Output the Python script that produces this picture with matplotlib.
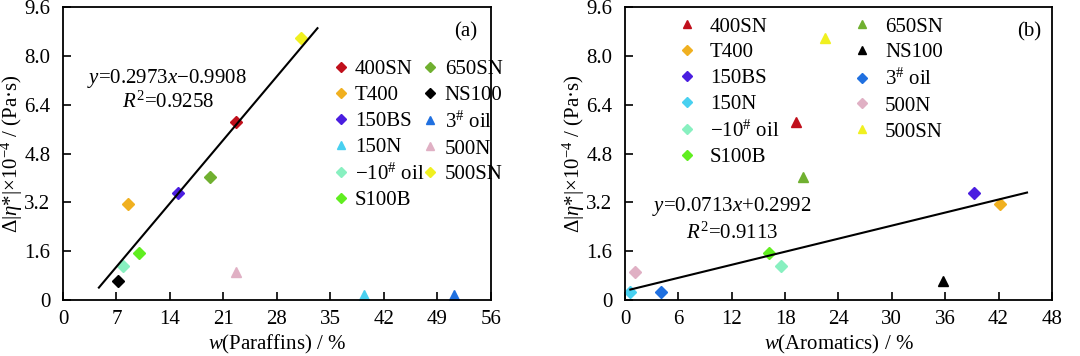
import matplotlib
matplotlib.use("Agg")
import matplotlib.pyplot as plt
import numpy as np

plt.rcParams['font.family'] = ['Liberation Serif', 'DejaVu Serif']
plt.rcParams['mathtext.fontset'] = 'custom'
plt.rcParams['mathtext.rm'] = 'Liberation Serif'
plt.rcParams['mathtext.it'] = 'Liberation Serif:italic'
plt.rcParams['font.size'] = 15

# oils (legend order)
oils = ['400SN', 'T400', '150BS', '150N', '\u221210$^{\\#}$ oil', 'S100B',
        '650SN', 'NS100', '3$^{\\#}$ oil', '500N', '500SN']
colors = ['#c0101c', '#f0b020', '#4a1ee0', '#48d0f0', '#88f0c0', '#60ee20',
          '#70b030', '#000000', '#2070e0', '#e0b0c4', '#f0f020']

# panel (a): paraffin content
paraffins = [22.6, 8.5, 15.0, 39.4, 7.8, 10.0, 19.3, 7.2, 51.2, 22.6, 31.2]
dvisc_a = [5.85, 3.14, 3.5, 0.16, 1.12, 1.53, 4.03, 0.62, 0.16, 0.93, 8.58]
markers_a = ['D', 'D', 'D', '^', 'D', 'D', 'D', 'D', '^', '^', 'D']

# panel (b): aromatics content
aromatics = [19.2, 42.2, 39.2, 0.6, 17.5, 16.2, 20.0, 35.8, 4.0, 1.1, 22.5]
dvisc_b = [5.85, 3.14, 3.5, 0.27, 1.12, 1.53, 4.03, 0.62, 0.27, 0.93, 8.58]
markers_b = ['^', 'D', 'D', 'D', 'D', 'D', '^', '^', 'D', 'D', '^']

fit_a = (0.2973, -0.9908, 4.7, 33.3)
fit_b = (0.0713, 0.2992, 0.6, 45.2)

yticks = [0, 1.6, 3.2, 4.8, 6.4, 8.0, 9.6]
ytick_labels = ['0', '1.6', '3.2', '4.8', '6.4', '8.0', '9.6']
ylabel = '\u0394|$\\eta$*|\u00d710$^{\u22124}$ / (Pa\u00b7s)'

fig = plt.figure(figsize=(10.8, 3.56), dpi=100)
ax1 = fig.add_axes([0.0583, 0.1573, 0.3963, 0.8227])
ax2 = fig.add_axes([0.5787, 0.1573, 0.3953, 0.8227])


def draw(ax, xs, ys, markers, fit, xmax, xstep, xlabel):
    for name, c, x, y, m in zip(oils, colors, xs, ys, markers):
        ms = 7 if m == '^' else 5.8
        ax.plot([x], [y], linestyle='none', marker=m, color=c, ms=ms, label=name)
    k, b, x0, x1 = fit
    xf = np.array([x0, x1])
    ax.plot(xf, k * xf + b, color='black', lw=1.5)
    ax.set_xlim(0, xmax)
    ax.set_ylim(0, 9.6)
    ax.set_xticks(np.arange(0, xmax + 1, xstep))
    ax.set_yticks(yticks)
    ax.set_yticklabels(ytick_labels)
    ax.tick_params(direction='in', length=6, width=1.2, top=False, right=False)
    ax.tick_params(axis='x', pad=7)
    ax.tick_params(axis='y', pad=9)
    for s in ax.spines.values():
        s.set_linewidth(1.3)
    ax.set_xlabel(xlabel, labelpad=3)
    ax.set_ylabel(ylabel, labelpad=-0.5)


draw(ax1, paraffins, dvisc_a, markers_a, fit_a, 56, 7, '$w$(Paraffins) / %')
draw(ax2, aromatics, dvisc_b, markers_b, fit_b, 48, 6, '$w$(Aromatics) / %')

ax1.text(0.967, 0.95, '(a)', transform=ax1.transAxes, ha='right', va='top')
ax2.text(0.974, 0.95, '(b)', transform=ax2.transAxes, ha='right', va='top')

ax1.legend(ncol=2, frameon=False, loc='upper left', bbox_to_anchor=(0.634, 0.82),
           handlelength=0.6, handletextpad=0.38, columnspacing=0.0,
           labelspacing=0.3, markerscale=0.85, borderaxespad=0, borderpad=0)
ax2.legend(ncol=2, frameon=False, loc='upper left', bbox_to_anchor=(0.13, 0.966),
           handlelength=0.6, handletextpad=0.82, columnspacing=3.65,
           labelspacing=0.3, markerscale=0.85, borderaxespad=0, borderpad=0)

ax1.text(0.242, 0.755, '$y$=0.2973$x$\u22120.9908', transform=ax1.transAxes,
         ha='center', va='center')
ax1.text(0.245, 0.676, '$R^2$=0.9258', transform=ax1.transAxes,
         ha='center', va='center')
ax2.text(0.249, 0.318, '$y$=0.0713$x$+0.2992', transform=ax2.transAxes,
         ha='center', va='center')
ax2.text(0.252, 0.229, '$R^2$=0.9113', transform=ax2.transAxes,
         ha='center', va='center')

fig.savefig('out.png', dpi=100)
